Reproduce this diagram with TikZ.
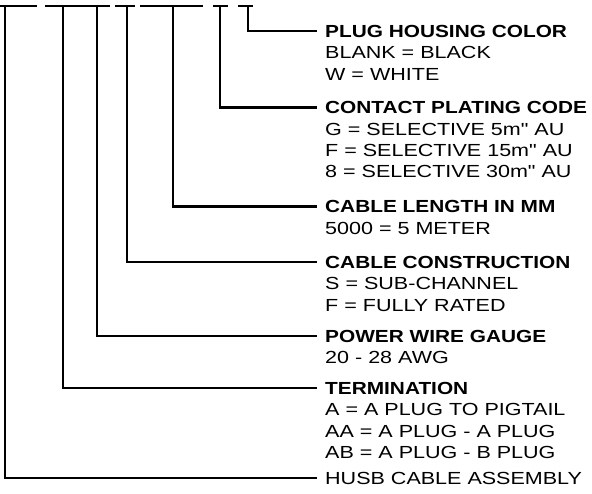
\documentclass[tikz,border=0pt]{standalone}
\usepackage{fontspec}
\setmainfont{Liberation Sans}[FakeStretch=1.23, Ligatures=TeXOff, BoldFeatures={FakeStretch=1.19}]
\begin{document}
\begin{tikzpicture}[x=1pt,y=-1pt,
  lead/.style={line width=2.2pt},
  bar/.style={line width=2.6pt},
  title/.style={font=\bfseries\fontsize{17.5}{21.4}\selectfont, inner sep=0pt, anchor=base west, text height=12.5pt, text depth=0pt},
  desc/.style={font=\fontsize{17.5}{21.4}\selectfont, inner sep=0pt, anchor=base west, align=left}]
\useasboundingbox[fill=white] (0,0) rectangle (592,494);
% top placeholder bars
\draw[bar] (0,6) -- (37,6);
\draw[bar] (45,6) -- (110,6);
\draw[bar] (115,6) -- (135,6);
\draw[bar] (140,6) -- (203,6);
\draw[bar] (213,6) -- (228,6);
\draw[bar] (238,6) -- (253,6);
% stem tops
\coordinate (s1) at (5,6);
\coordinate (s2) at (63,6);
\coordinate (s3) at (97,6);
\coordinate (s4) at (127,6);
\coordinate (s5) at (173,6);
\coordinate (s6) at (220,6);
\coordinate (s7) at (248,6);
% titles (base of a multi-line desc node is its last line)
\node[title] (t7) at (325,37.25) {PLUG HOUSING COLOR};
\node[desc] (d7) at ([yshift=-42.8pt]t7.base west) {BLANK = BLACK\\W = WHITE};
\node[title] (t6) at (325,113.75) {CONTACT PLATING CODE};
\node[desc] (d6) at ([yshift=-64.2pt]t6.base west) {G = SELECTIVE 5m" AU\\F = SELECTIVE 15m" AU\\8 = SELECTIVE 30m" AU};
\node[title] (t5) at (325,212.75) {CABLE LENGTH IN MM};
\node[desc] (d5) at ([yshift=-21.4pt]t5.base west) {5000 = 5 METER};
\node[title] (t4) at (325,268.25) {CABLE CONSTRUCTION};
\node[desc] (d4) at ([yshift=-42.8pt]t4.base west) {S = SUB-CHANNEL\\F = FULLY RATED};
\node[title] (t3) at (325,342.25) {POWER WIRE GAUGE};
\node[desc] (d3) at ([yshift=-21.4pt]t3.base west) {20 - 28 AWG};
\node[title] (t2) at (325,394.25) {TERMINATION};
\node[desc] (d2) at ([yshift=-64.2pt]t2.base west) {A = A PLUG TO PIGTAIL\\AA = A PLUG - A PLUG\\AB = A PLUG - B PLUG};
\node[desc, text height=12.5pt, text depth=0pt] (t1) at (325,484.25) {HUSB CABLE ASSEMBLY};
% leaders
\draw[lead] (s7) |- ([xshift=-8pt]t7.west);
\draw[lead] (s6) |- ([xshift=-8pt]t6.west);
\draw[lead] (s5) |- ([xshift=-8pt]t5.west);
\draw[lead] (s4) |- ([xshift=-8pt]t4.west);
\draw[lead] (s3) |- ([xshift=-8pt]t3.west);
\draw[lead] (s2) |- ([xshift=-8pt]t2.west);
\draw[lead] (s1) |- ([xshift=-8pt]t1.west);
\end{tikzpicture}
\end{document}
